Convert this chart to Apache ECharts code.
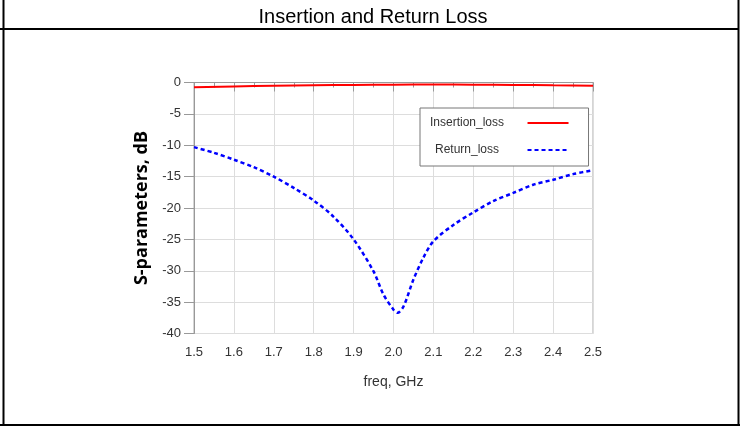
<!DOCTYPE html>
<html>
<head>
<meta charset="utf-8">
<script src="https://cdn.jsdelivr.net/npm/echarts@6/dist/echarts.min.js"></script>
<style>html,body{margin:0;padding:0;background:#fff;}#c{width:746px;height:427px;}</style>
</head>
<body>
<div id="c"></div>
<script>
// ---- data ----
var seriesNames = ['Insertion_loss', 'Return_loss'];
var insFreq = [1.5, 1.6, 1.7, 1.8, 1.9, 2.0, 2.1, 2.2, 2.3, 2.4, 2.5];
var insLoss = [-0.75, -0.62, -0.52, -0.44, -0.38, -0.34, -0.33, -0.35, -0.39, -0.44, -0.5];
var retFreq = [1.5, 1.55, 1.6, 1.65, 1.7, 1.75, 1.8, 1.85, 1.9, 1.95, 1.975, 2.0, 2.01, 2.025, 2.05, 2.075, 2.1, 2.15, 2.2, 2.25, 2.3, 2.35, 2.4, 2.45, 2.5];
var retLoss = [-10.3, -11.2, -12.3, -13.5, -15.0, -16.8, -18.8, -21.4, -25.0, -30.1, -33.8, -36.2, -36.7, -35.7, -31.4, -27.9, -25.3, -22.7, -20.7, -18.9, -17.6, -16.3, -15.5, -14.6, -14.0];
var xMin = 1.5, xMax = 2.5, xStep = 0.1;
var yMin = -40, yMax = 0, yStep = 5;
var titleText = 'Insertion and Return Loss';
var xName = 'freq, GHz';
var yName = 'S-parameters, dB';

function pairs(xs, ys) { return xs.map(function (x, i) { return [x, ys[i]]; }); }

var chart = echarts.init(document.getElementById('c'), null, { renderer: 'canvas' });
var font = '"Liberation Sans", Arial, sans-serif';
chart.setOption({
  animation: false,
  backgroundColor: '#fff',
  title: {
    text: titleText, left: 'center', top: 2,
    textStyle: { fontFamily: font, fontSize: 20, fontWeight: 'normal', color: '#000' }
  },
  graphic: [
    { type: 'line', shape: { x1: 3.5, y1: 0, x2: 3.5, y2: 426 }, style: { stroke: '#000', lineWidth: 2 } },
    { type: 'line', shape: { x1: 738.5, y1: 0, x2: 738.5, y2: 426 }, style: { stroke: '#000', lineWidth: 2 } },
    { type: 'line', shape: { x1: 0, y1: 29, x2: 739, y2: 29 }, style: { stroke: '#000', lineWidth: 2 } },
    { type: 'line', shape: { x1: 0, y1: 425, x2: 740, y2: 425 }, style: { stroke: '#000', lineWidth: 2 } }
  ],
  grid: { left: 194, right: 153, top: 82.5, bottom: 93.5, show: true, borderColor: '#aaa', borderWidth: 1 },
  legend: {
    orient: 'vertical', left: 420, top: 108, align: 'right',
    data: seriesNames,
    backgroundColor: '#fff', borderColor: '#777', borderWidth: 1,
    padding: [9, 19, 10, 10],
    itemWidth: 41, itemHeight: 12, itemGap: 15,
    itemStyle: { opacity: 0 },
    formatter: '{a|{name}}{b|}',
    textStyle: {
      fontFamily: font, fontSize: 12, color: '#333',
      rich: { a: { width: 85, align: 'center', fontFamily: font, fontSize: 12, color: '#333' }, b: { width: 13 } }
    }
  },
  xAxis: {
    type: 'value', min: xMin, max: xMax, interval: xStep,
    name: xName, nameLocation: 'middle', nameGap: 42,
    nameTextStyle: { fontFamily: font, fontSize: 14, color: '#333' },
    axisLine: { show: true, lineStyle: { color: '#999' } },
    axisTick: { show: true, length: 9, lineStyle: { color: '#999' } },
    minorTick: { show: true, splitNumber: 2, length: 5, lineStyle: { color: '#999' } },
    splitLine: { show: true, lineStyle: { color: '#ddd' } },
    axisLabel: { fontFamily: font, fontSize: 13, color: '#333', margin: 12, formatter: function (v) { return v.toFixed(1); } }
  },
  yAxis: {
    type: 'value', min: yMin, max: yMax, interval: yStep,
    name: yName, nameLocation: 'middle', nameGap: 41, nameRotate: 90,
    nameTextStyle: { fontFamily: '"Open Sans", sans-serif', fontSize: 18, fontWeight: 'bold', color: '#000' },
    axisLine: { show: true, onZero: false, lineStyle: { color: '#999' } },
    axisTick: { show: true, length: 10, lineStyle: { color: '#999' } },
    splitLine: { show: true, lineStyle: { color: '#ddd' } },
    axisLabel: { fontFamily: font, fontSize: 13, color: '#333', margin: 13 }
  },
  series: [
    {
      name: seriesNames[0], type: 'line', data: pairs(insFreq, insLoss), smooth: true,
      symbol: 'none', lineStyle: { color: '#ff0000', width: 2 }, itemStyle: { color: '#ff0000' }, z: 3
    },
    {
      name: seriesNames[1], type: 'line', data: pairs(retFreq, retLoss), smooth: 0.3,
      symbol: 'none', lineStyle: { color: '#0000ff', width: 2.5, type: [4, 3] }, itemStyle: { color: '#0000ff' }, z: 2
    }
  ]
});
</script>
</body>
</html>
